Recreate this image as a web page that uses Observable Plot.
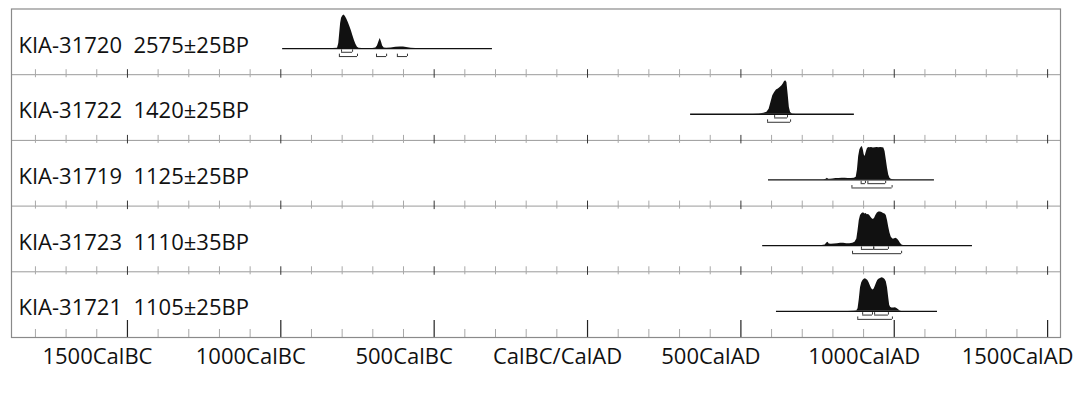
<!DOCTYPE html>
<html>
<head>
<meta charset="utf-8">
<script src="https://cdn.jsdelivr.net/npm/d3@7"></script>
<script src="https://cdn.jsdelivr.net/npm/@observablehq/plot@0.6"></script>
<style>
  html, body { margin: 0; padding: 0; background: #fff; }
  #chart svg { display: block; }
</style>
</head>
<body>
<div id="chart"></div>
<script>
// ---- data ----
const sampleNames = ["KIA-31720", "KIA-31722", "KIA-31719", "KIA-31723", "KIA-31721"];
const sampleAges = ["2575±25BP", "1420±25BP", "1125±25BP", "1110±35BP", "1105±25BP"];
const baselineStart = [-994, 336, 590, 571, 616];
const baselineEnd = [-310, 870, 1131, 1255, 1141];

// [calendar year (negative = BC), relative probability]
const densityKIA31720 = [
  [-830, 0], [-815, 0.01], [-811, 0.15], [-808, 0.45], [-805, 0.75], [-802, 0.9], [-798, 0.97], [-794, 1.0],
  [-790, 0.96], [-785, 0.88], [-780, 0.78], [-775, 0.66], [-770, 0.53], [-765, 0.38], [-760, 0.24],
  [-755, 0.12], [-750, 0.04], [-745, 0.01], [-735, 0], [-700, 0], [-690, 0.02], [-685, 0.08],
  [-680, 0.2], [-676, 0.3], [-672, 0.2], [-668, 0.08], [-663, 0.02], [-655, 0.01], [-640, 0.02],
  [-625, 0.04], [-610, 0.05], [-600, 0.05], [-590, 0.03], [-575, 0.01], [-560, 0]
];
const densityKIA31722 = [
  [540, 0], [560, 0.01], [575, 0.03], [585, 0.06], [592, 0.15], [598, 0.35], [604, 0.55],
  [610, 0.65], [616, 0.72], [622, 0.75], [628, 0.8], [634, 0.85], [638, 0.9], [642, 0.97],
  [646, 1.0], [650, 0.95], [654, 0.6], [658, 0.2], [662, 0.05], [668, 0.01], [680, 0]
];
const densityKIA31719 = [
  [770, 0], [778, 0.02], [782, 0.05], [786, 0.02], [792, 0.02], [800, 0.03], [810, 0.04],
  [820, 0.04], [830, 0.05], [840, 0.05], [850, 0.04], [860, 0.04], [870, 0.05], [876, 0.08],
  [880, 0.3], [884, 0.7], [888, 0.9], [892, 0.97], [896, 1.0], [899, 0.9], [902, 0.75],
  [905, 0.7], [908, 0.8], [912, 0.92], [916, 0.97], [920, 0.96], [926, 0.97], [932, 0.95],
  [938, 0.96], [944, 0.97], [950, 0.96], [956, 0.97], [962, 0.96], [966, 0.95], [970, 0.85],
  [974, 0.6], [978, 0.35], [982, 0.15], [986, 0.05], [990, 0.02], [996, 0.01], [1005, 0]
];
const densityKIA31723 = [
  [760, 0], [775, 0.02], [780, 0.08], [784, 0.1], [788, 0.05], [795, 0.04], [805, 0.05],
  [815, 0.06], [825, 0.07], [835, 0.07], [845, 0.06], [855, 0.06], [865, 0.07], [872, 0.1],
  [878, 0.2], [882, 0.45], [886, 0.75], [890, 0.9], [895, 0.96], [900, 0.98], [904, 0.94],
  [908, 0.96], [912, 0.92], [916, 0.93], [920, 0.9], [924, 0.85], [928, 0.8], [932, 0.78],
  [936, 0.82], [940, 0.9], [945, 0.97], [950, 1.0], [955, 1.0], [960, 0.99], [965, 0.96],
  [970, 0.94], [974, 0.9], [978, 0.75], [982, 0.55], [986, 0.38], [990, 0.26], [995, 0.2],
  [1000, 0.2], [1005, 0.22], [1010, 0.2], [1015, 0.15], [1020, 0.07], [1025, 0.02], [1032, 0]
];
const densityKIA31721 = [
  [850, 0], [870, 0.01], [878, 0.02], [882, 0.08], [886, 0.35], [890, 0.7], [894, 0.85],
  [898, 0.92], [902, 0.96], [906, 0.97], [910, 0.95], [914, 0.92], [918, 0.85], [922, 0.76],
  [926, 0.68], [930, 0.64], [934, 0.66], [938, 0.74], [942, 0.84], [946, 0.92], [950, 0.96],
  [955, 0.98], [960, 1.0], [965, 0.99], [970, 0.95], [974, 0.88], [978, 0.7], [982, 0.4],
  [985, 0.18], [988, 0.12], [992, 0.1], [998, 0.1], [1004, 0.11], [1010, 0.08], [1015, 0.04],
  [1020, 0.01], [1026, 0]
];
const densities = [densityKIA31720, densityKIA31722, densityKIA31719, densityKIA31723, densityKIA31721];

// [row, from, to] calibrated ranges
const ranges68 = [[0, -802, -766], [1, 610, 652], [2, 892, 906], [2, 914, 972],
                  [3, 893, 933], [3, 933, 981], [4, 897, 929], [4, 936, 981]];
const ranges95 = [[0, -809, -750], [0, -688, -655], [0, -620, -587], [1, 587, 662],
                  [2, 862, 993], [3, 864, 1024], [4, 881, 994]];

const minorTickYears = [-1800, -1700, -1600, -1400, -1300, -1200, -1100, -900, -800, -700, -600,
  -400, -300, -200, -100, 100, 200, 300, 400, 600, 700, 800, 900, 1100, 1200, 1300, 1400];
const majorTickYears = [-1500, -1000, -500, 0, 500, 1000, 1500];
const majorTickLabels = ["1500CalBC", "1000CalBC", "500CalBC", "CalBC/CalAD", "500CalAD", "1000CalAD", "1500CalAD"];

const xDomain = [-1878, 1542];
const separatorRows = [1, 2, 3, 4];

// ---- layout constants (row units: 1 row = 1) ----
const PX = 1 / 65.6;
const BASE = 39.5 * PX;   // baseline offset inside a row
const PEAK = 33.5 * PX;   // height of max probability
const LABEL = 36.5 * PX;

const rows = sampleNames.map((n, i) => ({i, name: n, age: sampleAges[i], x1: baselineStart[i], x2: baselineEnd[i]}));
const densityRows = densities.flatMap((d, i) => d.map(([yr, p]) => ({i, yr, base: i + BASE, top: i + BASE - p * PEAK})));
const r68 = ranges68.map(([i, a, b]) => ({i, a, b, y: i + BASE + 3.7 * PX, yt: i + BASE + 1.3 * PX}));
const r95 = ranges95.map(([i, a, b]) => ({i, a, b, y: i + BASE + 8 * PX, yt: i + BASE + 5.6 * PX}));
const bracketEnds = [...r68, ...r95].flatMap(d => [{x: d.a, y1: d.yt, y2: d.y}, {x: d.b, y1: d.yt, y2: d.y}]);
const sepMinor = separatorRows.flatMap(r => minorTickYears.map(x => ({x, r})));
const sepMajor = separatorRows.flatMap(r => majorTickYears.map(x => ({x, r})));
const axisLabels = majorTickYears.map((x, k) => ({x, label: majorTickLabels[k]}));

const chart = Plot.plot({
  width: 1080,
  height: 394,
  marginLeft: 11,
  marginRight: 20,
  marginTop: 8.5,
  marginBottom: 57,
  style: {fontFamily: "'Open Sans', 'Noto Sans', sans-serif", background: "#fff", color: "#000"},
  x: {domain: xDomain, axis: null},
  y: {domain: [0, 5], reverse: true, axis: null},
  marks: [
    Plot.ruleY(separatorRows, {y: d => d, stroke: "#9a9a9a", strokeWidth: 1}),
    Plot.ruleX(sepMinor, {x: "x", y1: d => d.r - 5 * PX, y2: d => d.r + 3 * PX, stroke: "#a8a8a8", strokeWidth: 1}),
    Plot.ruleX(sepMajor, {x: "x", y1: d => d.r - 5 * PX, y2: d => d.r + 3.5 * PX, stroke: "#333", strokeWidth: 1}),
    Plot.ruleX(minorTickYears, {x: d => d, y1: 5 - 8 * PX, y2: 5, stroke: "#a8a8a8", strokeWidth: 1}),
    Plot.ruleX(majorTickYears, {x: d => d, y1: 5 - 17 * PX, y2: 5, stroke: "#222", strokeWidth: 1.2}),
    Plot.areaY(densityRows, {x: "yr", y1: "base", y2: "top", z: "i", fill: "#111", curve: "linear"}),
    Plot.ruleY(rows, {y: d => d.i + BASE, x1: "x1", x2: "x2", stroke: "#111", strokeWidth: 1.3}),
    Plot.ruleY([...r68, ...r95], {y: "y", x1: "a", x2: "b", stroke: "#333", strokeWidth: 1}),
    Plot.ruleX(bracketEnds, {x: "x", y1: "y1", y2: "y2", stroke: "#333", strokeWidth: 1}),
    Plot.text(rows, {x: () => xDomain[0], dx: 7, y: d => d.i + LABEL, text: d => `${d.name}\u00a0\u00a0${d.age}`,
      textAnchor: "start", fontSize: 22, fill: "#111"}),
    Plot.text(axisLabels, {x: "x", y: () => 5 + 19 * PX, dx: -30, text: "label", fontSize: 22, fill: "#111"}),
    Plot.frame({stroke: "#8a8a8a", strokeWidth: 1.2})
  ]
});
document.getElementById("chart").appendChild(chart);
</script>
</body>
</html>
